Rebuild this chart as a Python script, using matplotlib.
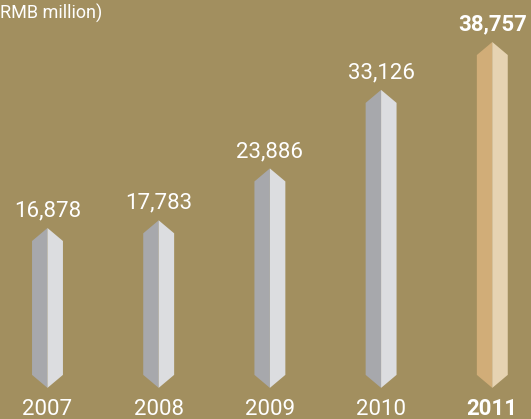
import matplotlib.pyplot as plt
from matplotlib.patches import Polygon

years = ['2007', '2008', '2009', '2010', '2011']
values = [16878, 17783, 23886, 33126, 38757]
labels = ['16,878', '17,783', '23,886', '33,126', '38,757']

bg = '#a28f5f'
grey_dark, grey_light = '#a7a8ac', '#dcdde0'
gold_dark, gold_light = '#d1ad78', '#e6d3b2'

fig = plt.figure(figsize=(5.31, 4.19), dpi=100)
fig.patch.set_facecolor(bg)
ax = fig.add_axes([0, 0, 1, 1])
ax.set_facecolor(bg)
ax.set_xlim(-0.427, 4.348)
ax.set_ylim(-5590, 43700)
ax.axis('off')

half = 0.139    # half bar width (x units)
tip = 1530      # height of the pointed ends (value units)
base = -400     # where the lower point starts

for i, (v, lab) in enumerate(zip(values, labels)):
    last = i == len(values) - 1
    dark, light = (gold_dark, gold_light) if last else (grey_dark, grey_light)
    # left face
    ax.add_patch(Polygon([(i, v), (i - half, v - tip), (i - half, base),
                          (i, base - tip)], closed=True, fc=dark, ec='none'))
    # right face
    ax.add_patch(Polygon([(i, v), (i + half, v - tip), (i + half, base),
                          (i, base - tip)], closed=True, fc=light, ec='none'))
    w = 'bold' if last else 'normal'
    ax.text(i, v + 1350, lab, ha='center', va='baseline', color='white',
            fontsize=16, fontfamily='Roboto', fontweight=w)
    ax.text(i, -5150, years[i], ha='center', va='baseline', color='white',
            fontsize=16, fontfamily='Roboto', fontweight=w)

fig.text(0.0, 0.99, 'RMB million)', ha='left', va='top', color='white',
         fontsize=13, fontfamily='Roboto', fontweight='normal')

fig.savefig('out.png', dpi=100, facecolor=bg)
